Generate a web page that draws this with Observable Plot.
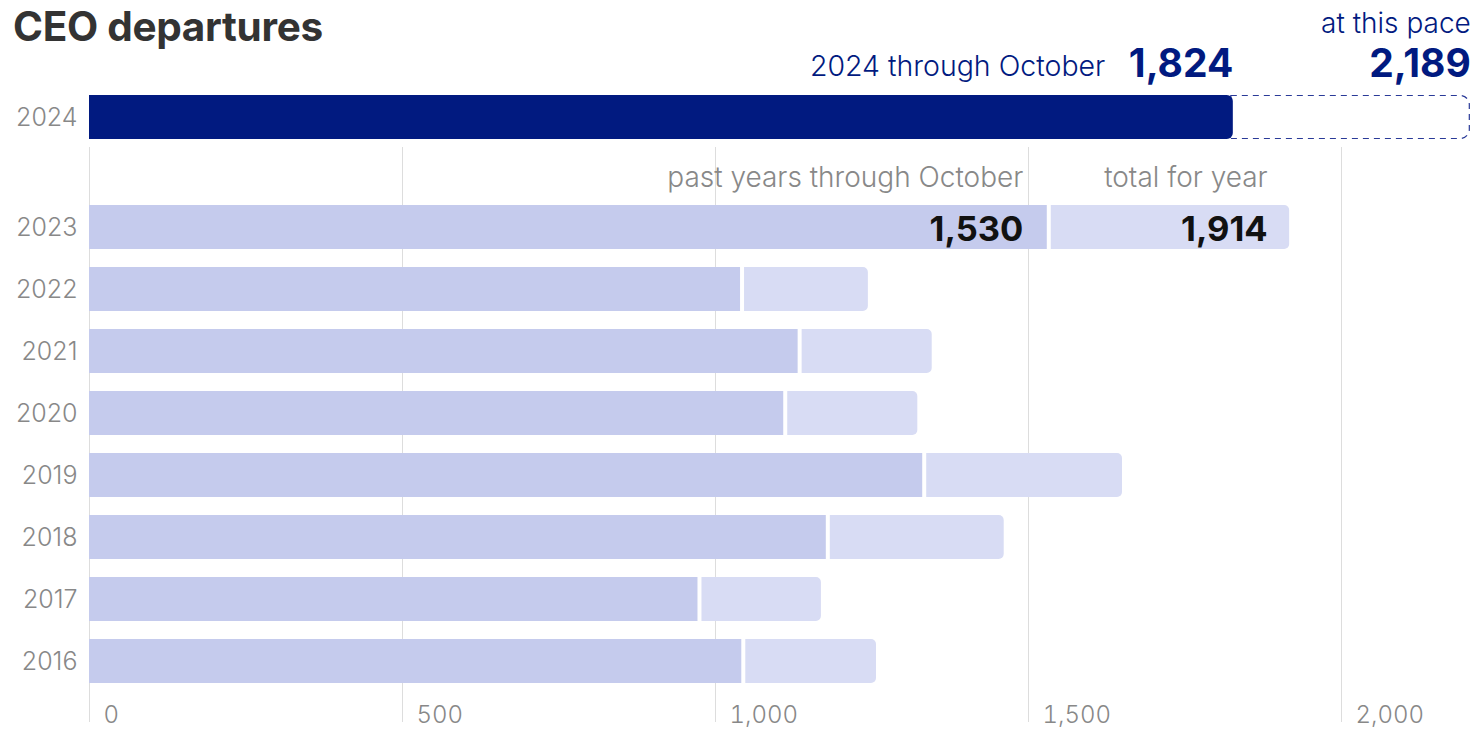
<!DOCTYPE html>
<html><head><meta charset="utf-8">
<script src="https://cdn.jsdelivr.net/npm/d3@7"></script>
<script src="https://cdn.jsdelivr.net/npm/@observablehq/plot@0.6"></script>
<style>
body{margin:0;background:#fff;font-family:Inter,"Noto Sans",sans-serif;}
#wrap{position:relative;width:1480px;height:738px;overflow:hidden;background:#fff}
#title{position:absolute;left:13px;top:2px;margin:0;font-size:40.5px;font-weight:700;color:#333;letter-spacing:-0.3px;z-index:2}
#top,#bottom{position:absolute;left:0}
#top{top:0}
#bottom{top:147px}
</style></head><body>
<div id="wrap"><h1 id="title">CEO departures</h1><div id="top"></div><div id="bottom"></div></div>
<script>
// ---- data ----
const currentYear = "2024";
const currentThroughOct = 1824;
const currentPace = 2189;
const pastYears = ["2023","2022","2021","2020","2019","2018","2017","2016"];
const pastThroughOct = [1530,1040,1132,1109,1331,1177,972,1042];
const pastTotal = [1914,1241,1343,1320,1647,1458,1166,1254];
const xTicks = [0,500,1000,1500,2000];
const currentLabel = "2024 through October";
const paceLabel = "at this pace";
const octHeader = "past years through October";
const totalHeader = "total for year";

// ---- build tables ----
const fmt = d3.format(",");
const cur = [{year: currentYear, oct: currentThroughOct, pace: currentPace}];
const rows = pastYears.map((y, i) => ({year: y, oct: pastThroughOct[i], total: pastTotal[i]}));
const first = [rows[0]];

const NAVY = "#011a80", DARK = "#c5cbed", LIGHT = "#d8dcf4", GRAY = "#888888";
const common = {
  width: 1480, marginLeft: 89, marginRight: 139,
  style: {fontFamily: "Inter, 'Noto Sans', sans-serif", background: "transparent", overflow: "visible"}
};

const topPlot = Plot.plot({
  ...common,
  height: 147, marginTop: 95, marginBottom: 8,
  x: {domain: [0, 2000], axis: null},
  y: {domain: [currentYear], padding: 0, label: null},
  marks: [
    Plot.axisY({tickSize: 0, tickPadding: 12, fontSize: 25, fontWeight: 300, color: GRAY, label: null}),
    Plot.barX(cur, {x1: "oct", x2: "pace", y: "year", fill: "white", stroke: "#2a3a98", strokeWidth: 1.2, strokeDasharray: "6,5", rx2: 9, insetRight: -10, insetTop: 0.5, insetBottom: 0.5}),
    Plot.barX(cur, {x: "oct", y: "year", fill: NAVY, rx2: 6, insetRight: -2}),
    Plot.text(cur, {x: "oct", y: "year", text: () => currentLabel, textAnchor: "end", lineAnchor: "bottom", dx: -126, dy: -42, fontSize: 28.5, fontWeight: 300, fill: NAVY}),
    Plot.text(cur, {x: "oct", y: "year", text: d => fmt(d.oct), textAnchor: "end", lineAnchor: "bottom", dx: 2, dy: -41, fontSize: 39, fontWeight: 700, fill: NAVY}),
    Plot.text(cur, {x: "pace", y: "year", text: () => paceLabel, textAnchor: "end", lineAnchor: "bottom", dx: 11, dy: -85, fontSize: 28, fontWeight: 300, fill: NAVY}),
    Plot.text(cur, {x: "pace", y: "year", text: d => fmt(d.pace), textAnchor: "end", lineAnchor: "bottom", dx: 11, dy: -41, fontSize: 39, fontWeight: 700, fill: NAVY})
  ]
});
document.getElementById("top").append(topPlot);

const bottomPlot = Plot.plot({
  ...common,
  height: 591, marginTop: 0, marginBottom: 16,
  x: {domain: [0, 2000]},
  y: {domain: pastYears, paddingInner: 0.29, paddingOuter: 0.782, align: 0.6, label: null},
  marks: [
    Plot.gridX({ticks: xTicks, stroke: "#dddddd", strokeOpacity: 1}),
    Plot.axisX({ticks: xTicks, tickSize: 0, tickPadding: 0, tickFormat: fmt, textAnchor: "start", dx: 14, dy: -17, fontSize: 24, fontWeight: 300, color: GRAY, label: null}),
    Plot.axisY({tickSize: 0, tickPadding: 12, fontSize: 25, fontWeight: 300, color: GRAY, label: null}),
    Plot.barX(rows, {x1: "oct", x2: "total", y: "year", fill: LIGHT, insetLeft: 4, insetRight: -2, rx2: 5}),
    Plot.barX(rows, {x: "oct", y: "year", fill: DARK}),
    Plot.text(first, {x: "oct", y: "year", text: () => octHeader, textAnchor: "end", lineAnchor: "bottom", dx: -24, dy: -41, fontSize: 28, fontWeight: 300, fill: GRAY}),
    Plot.text(first, {x: "total", y: "year", text: () => totalHeader, textAnchor: "end", lineAnchor: "bottom", dx: -20, dy: -41, fontSize: 28, fontWeight: 300, fill: GRAY}),
    Plot.text(first, {x: "oct", y: "year", text: d => fmt(d.oct), textAnchor: "end", lineAnchor: "bottom", dx: -24, dy: 13, fontSize: 34.5, fontWeight: 700, fill: "#111"}),
    Plot.text(first, {x: "total", y: "year", text: d => fmt(d.total), textAnchor: "end", lineAnchor: "bottom", dx: -20, dy: 13, fontSize: 34.5, fontWeight: 700, fill: "#111"})
  ]
});
document.getElementById("bottom").append(bottomPlot);
</script>
</body></html>
